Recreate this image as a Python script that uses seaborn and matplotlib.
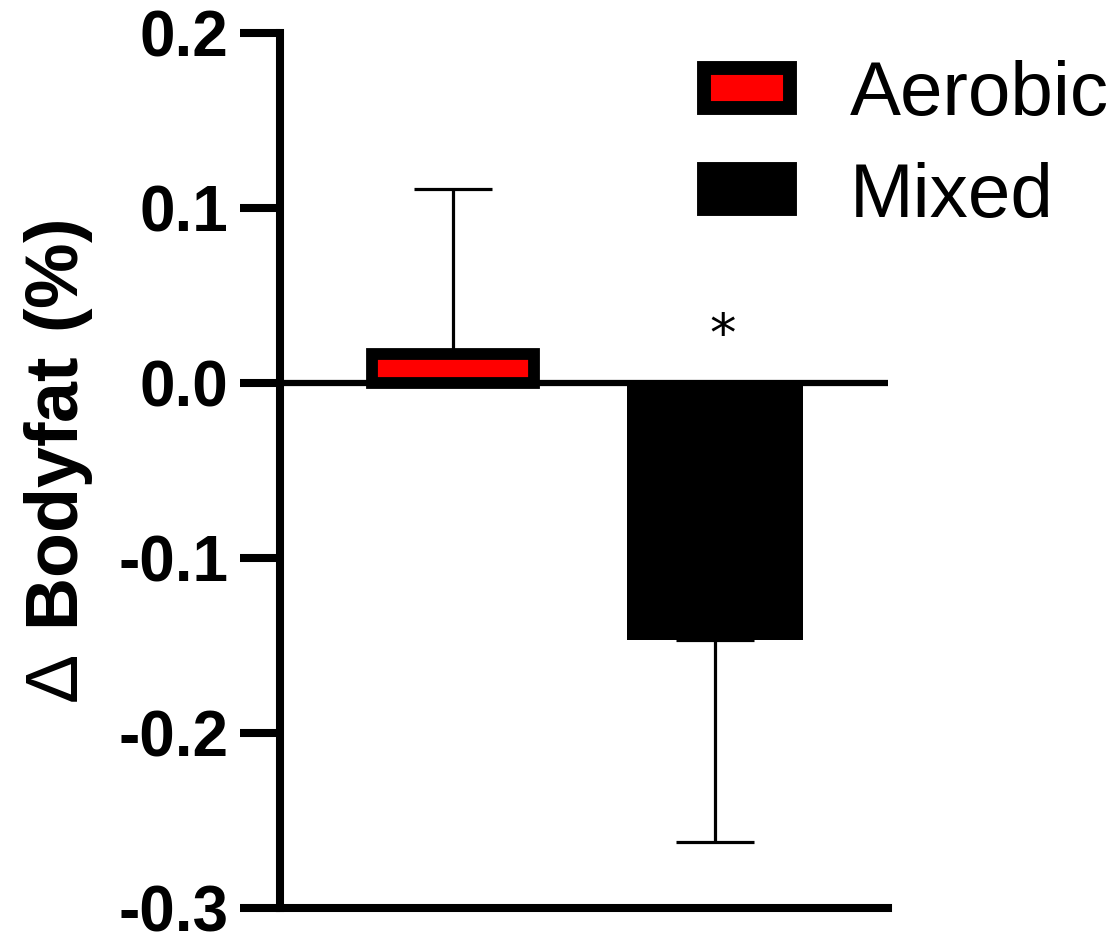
import matplotlib
matplotlib.use("Agg")
import matplotlib.pyplot as plt
import seaborn as sns
import pandas as pd
from matplotlib.patches import Patch

groups = ["Aerobic", "Mixed"]
means = [0.0166, -0.147]
err_up = [0.094, 0.0]
err_down = [0.0, 0.115]
fill_colors = ["#ff0000", "#000000"]
ytick_vals = [-0.3, -0.2, -0.1, 0.0, 0.1, 0.2]
ytick_labels = ["-0.3", "-0.2", "-0.1", "0.0", "0.1", "0.2"]
ylabel = r"$\mathrm{\Delta}\ \mathbf{Bodyfat\ (\%)}$"
star_text = "*"
star_y = 0.027

sns.set_theme(style="white")
plt.rcParams["font.family"] = ["Liberation Sans", "DejaVu Sans"]
plt.rcParams["mathtext.fontset"] = "custom"
plt.rcParams["mathtext.rm"] = "Liberation Sans"
plt.rcParams["mathtext.bf"] = "Liberation Sans:bold"
for k in ["text.color", "axes.labelcolor", "xtick.color", "ytick.color"]:
    plt.rcParams[k] = "black"

df = pd.DataFrame({"group": groups, "value": means})

fig = plt.figure(figsize=(11.2, 9.36), dpi=100)
ax = fig.add_axes([0.25, 0.0299, 0.543, 0.9348])

sns.barplot(data=df, x="group", y="value", hue="group", palette=fill_colors,
            saturation=1, width=0.62, edgecolor="black", linewidth=8.5,
            legend=False, ax=ax, zorder=3)
# Mixed bar is drawn without an outline, so widen it by the outline width
mixed = ax.patches[1]
mixed.set_linewidth(0)
extra = 0.05
mixed.set_x(mixed.get_x() - extra / 2)
mixed.set_width(mixed.get_width() + extra)

ax.errorbar([0, 1], means, yerr=[err_down, err_up], fmt="none",
            ecolor="black", elinewidth=2.3, capsize=28, capthick=2.3,
            zorder=2)

ax.axhline(0, color="black", lw=4.5, zorder=4)

ax.set_xlim(-0.66, 1.66)
ax.set_ylim(-0.3, 0.2)
ax.set_yticks(ytick_vals)
ax.set_yticklabels(ytick_labels)
ax.set_xticks([])
ax.set_xlabel("")
ax.set_ylabel(ylabel, fontsize=53)
ax.yaxis.set_label_coords(-0.305, 0.51)

for lab in ax.get_yticklabels():
    lab.set_fontsize(46)
    lab.set_fontweight("bold")

ax.tick_params(axis="y", direction="out", length=29, width=5.8, pad=8,
               color="black", left=True)
for s in ["top", "right"]:
    ax.spines[s].set_visible(False)
for s in ["left", "bottom"]:
    ax.spines[s].set_linewidth(5.8)
    ax.spines[s].set_color("black")
    ax.spines[s].set_zorder(5)

ax.text(1.03, star_y, star_text, ha="center", va="center", fontsize=38,
        family="DejaVu Sans")

handles = [Patch(facecolor=fill_colors[0], edgecolor="black", linewidth=10),
           Patch(facecolor=fill_colors[1], edgecolor="black", linewidth=10)]
leg = fig.legend(handles, groups, loc="upper left",
                 bbox_to_anchor=(704 / 1120, 1 - 60 / 936),
                 frameon=False, fontsize=55, handlelength=1.13,
                 handleheight=0.43, handletextpad=0.78, labelspacing=0.40,
                 borderpad=0, borderaxespad=0)

fig.savefig("out.png", dpi=100)
